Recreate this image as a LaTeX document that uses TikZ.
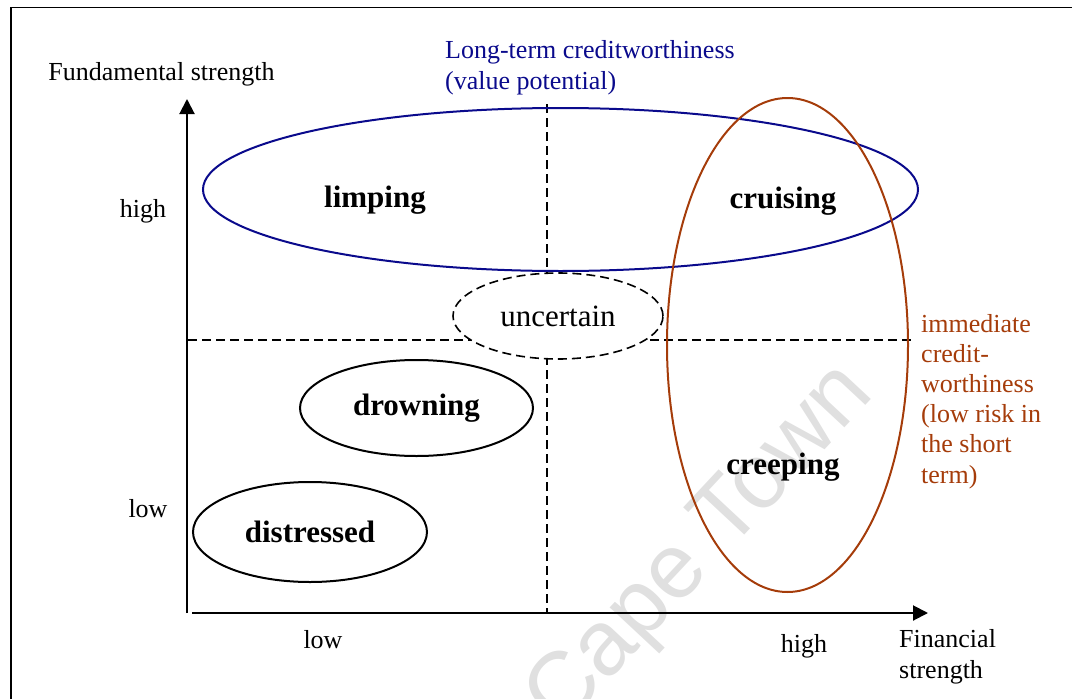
\documentclass[tikz,border=0pt]{standalone}
\usepackage{fontspec}
\setmainfont{Liberation Serif}
\newfontfamily\wmfont{Liberation Sans}
\usetikzlibrary{shapes.geometric,arrows.meta}
\definecolor{navy}{RGB}{10,10,140}
\definecolor{rust}{RGB}{165,60,10}
\definecolor{wmgray}{RGB}{224,224,224}
\begin{document}
\begin{tikzpicture}[x=1pt,y=-1pt,
  lbl/.style={font=\fontsize{26}{31}\selectfont, inner sep=0pt},
  bigbold/.style={font=\fontsize{31}{36}\selectfont\bfseries, inner sep=0pt},
  oval/.style={ellipse, draw, line width=2pt, inner sep=0pt, outer sep=0pt},
  axis/.style={line width=2pt, -{Triangle[length=15pt,width=15pt]}},
  divider/.style={line width=1.6pt, dash pattern=on 9pt off 5pt}]
\useasboundingbox (0,0) rectangle (1072,699);

% faint watermark
\node[font=\wmfont\fontsize{92}{92}\selectfont, text=wmgray, rotate=47, inner sep=0pt]
  (wm) at (702,548) {Cape Town};

% frame
\coordinate (fbl) at (11,699);
\coordinate (ftl) at (11,7.5);
\coordinate (ftr) at (1072,7.5);
\draw[line width=1.8pt] (fbl) -- (ftl) -- (ftr);

% dividing lines of the quadrants
\coordinate (vtop) at (547,104);
\coordinate (vbot) at (547,613);
\coordinate (hleft) at (188,340);
\coordinate (hright) at (912,340);
\draw[divider] (vtop) -- (vbot);
\draw[divider] (hleft) -- (hright);

% axes
\coordinate (yfoot) at (187,613);
\coordinate (ytip) at (187,99);
\coordinate (xfoot) at (192,613);
\coordinate (xtip) at (928,613);
\draw[axis] (yfoot) -- (ytip);
\draw[axis] (xfoot) -- (xtip);

% ovals
\node[oval, draw=navy, minimum width=715pt, minimum height=163pt] (longterm) at (560.5,189.5) {};
\node[oval, draw=rust, minimum width=241pt, minimum height=494pt] (immediate) at (787.5,345) {};
\node[oval, divider, fill=white, minimum width=210pt, minimum height=86pt,
  font=\fontsize{31}{36}\selectfont] (uncertain) at (558,316) {uncertain};
\node[oval, minimum width=233pt, minimum height=96pt, bigbold] (drowning) at (416.5,408) {drowning};
\node[oval, minimum width=234pt, minimum height=100pt, bigbold] (distressed) at (310,532) {distressed};

% quadrant labels
\node[bigbold, anchor=base] (limping) at (375,207) {limping};
\node[bigbold, anchor=base] (cruising) at (783,208) {cruising};
\node[bigbold, anchor=base] (creeping) at (783,474) {creeping};

% axis labels
\node[lbl, anchor=base] (ytitle) at (161.5,80) {Fundamental strength};
\node[lbl, anchor=base] (yhigh) at (143,217) {high};
\node[lbl, anchor=base] (ylow) at (148,517) {low};
\node[lbl, anchor=base] (xlow) at (323,648) {low};
\node[lbl, anchor=base] (xhigh) at (804,652) {high};
\node[lbl, anchor=base west, align=left] (xtitle) at (899,678) {Financial\\strength};

% captions of the two ovals (anchored at the baseline of their last line)
\node[lbl, anchor=base west, align=left, text=navy] (ltcap) at (445,89)
  {Long-term creditworthiness\\(value potential)};
\node[lbl, anchor=base west, align=left, text=rust, font=\fontsize{26}{30.2}\selectfont] (imcap) at (921,483)
  {immediate\\credit-\\worthiness\\(low risk in\\the short\\term)};
\end{tikzpicture}
\end{document}
